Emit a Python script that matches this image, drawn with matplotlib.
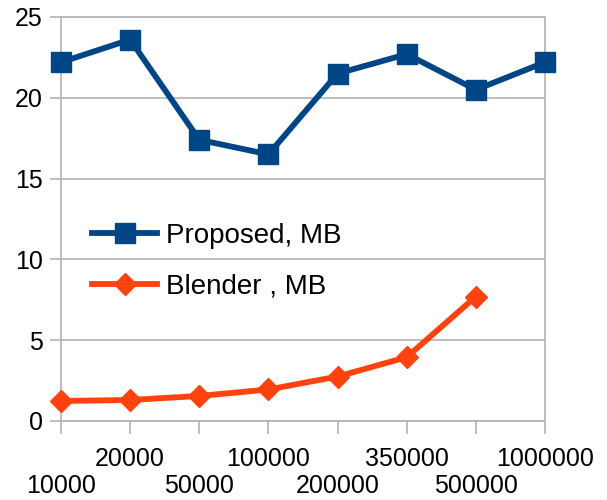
import matplotlib
matplotlib.use("Agg")
import matplotlib.pyplot as plt

# Polygon counts and memory use (MB)
categories = ["10000", "20000", "50000", "100000", "200000", "350000", "500000", "1000000"]
proposed_mb = [22.2, 23.6, 17.4, 16.5, 21.5, 22.7, 20.5, 22.2]
blender_mb = [1.24, 1.3, 1.55, 1.95, 2.75, 3.95, 7.7]

plt.rcParams["font.family"] = ["Liberation Sans", "DejaVu Sans"]

fig = plt.figure(figsize=(6.07, 5.0), dpi=100)
ax = fig.add_axes([61 / 607, 1 - 421 / 500, (545 - 61) / 607, (421 - 17) / 500])

grid_col = "#b3b3b3"
x_prop = list(range(len(proposed_mb)))
x_blend = list(range(len(blender_mb)))

ax.plot(x_prop, proposed_mb, color="#004586", lw=4.2, marker="s", ms=14.5,
        label="Proposed, MB", zorder=3, clip_on=False)
ax.plot(x_blend, blender_mb, color="#ff420e", lw=4.2, marker="D", ms=11.5,
        label="Blender , MB", zorder=3, clip_on=False)

ax.set_xlim(0, len(categories) - 1)
ax.set_ylim(0, 25)
ax.set_yticks([0, 5, 10, 15, 20, 25])

# staggered category labels: even positions on the lower row, odd on the upper row
idx = list(range(len(categories)))
ax.set_xticks(idx[0::2])
ax.set_xticklabels(categories[0::2])
ax.set_xticks(idx[1::2], minor=True)
ax.set_xticklabels(categories[1::2], minor=True)

ax.yaxis.grid(True, color=grid_col, lw=1.2)
ax.set_axisbelow(True)
for s in ax.spines.values():
    s.set_color(grid_col)
    s.set_linewidth(1.2)

ax.tick_params(axis="both", which="both", colors=grid_col, labelcolor="black",
               labelsize=18, width=1.2)
ax.tick_params(axis="y", length=8, pad=5)
ax.tick_params(axis="x", which="minor", length=9, pad=10)
ax.tick_params(axis="x", which="major", length=9, pad=29)

leg = ax.legend(loc="upper left", bbox_to_anchor=(0.064, 0.49), frameon=False,
                borderaxespad=0, borderpad=0,
                fontsize=20, handlelength=2.35, handletextpad=0.33, labelspacing=0.88)

fig.savefig("out.png", dpi=100)
